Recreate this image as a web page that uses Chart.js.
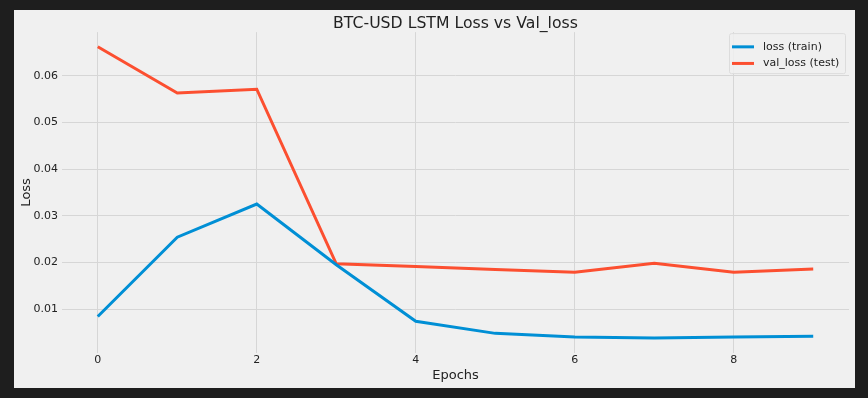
<!DOCTYPE html>
<html>
<head>
<meta charset="utf-8">
<script src="https://cdn.jsdelivr.net/npm/chart.js@4"></script>
<style>
  html, body { margin: 0; padding: 0; background: #1e1e1e; }
  #wrap { position: absolute; left: 14px; top: 10px; width: 841px; height: 378px; background: #f0f0f0; }
</style>
</head>
<body>
<div id="wrap"><canvas id="lossChart"></canvas></div>
<script>
const epochs = [0, 1, 2, 3, 4, 5, 6, 7, 8, 9];
const loss = [0.0084, 0.0254, 0.0325, 0.0195, 0.0074, 0.0048, 0.0040, 0.0038, 0.0040, 0.0042];
const valLoss = [0.0662, 0.0563, 0.0571, 0.0197, 0.0191, 0.0185, 0.0179, 0.0198, 0.0179, 0.0186];
const xTicks = [0, 2, 4, 6, 8];
const yTicks = [0.01, 0.02, 0.03, 0.04, 0.05, 0.06];
const seriesNames = ["loss (train)", "val_loss (test)"];

const FONT = "'DejaVu Sans', sans-serif";
const TEXT = "#222222";
const GRID = "#d6d6d6";

// matplotlib-style legend box in the upper right corner of the plot
const legendBox = {
  id: "legendBox",
  afterDatasetsDraw(chart) {
    const ctx = chart.ctx;
    const area = chart.chartArea;
    const w = 116, h = 40;
    const x = area.right - 4 - w, y = area.top + 1;
    ctx.save();
    ctx.beginPath();
    ctx.roundRect(x + 0.5, y + 0.5, w, h, 2);
    ctx.fillStyle = "rgba(240,240,240,0.85)";
    ctx.fill();
    ctx.strokeStyle = "#dcdcdc";
    ctx.lineWidth = 1;
    ctx.stroke();
    chart.data.datasets.forEach((ds, i) => {
      const cy = y + 13.7 + i * 16.6;
      ctx.beginPath();
      ctx.moveTo(x + 3, cy);
      ctx.lineTo(x + 25, cy);
      ctx.strokeStyle = ds.borderColor;
      ctx.lineWidth = 3;
      ctx.stroke();
      ctx.fillStyle = TEXT;
      ctx.font = "11px " + FONT;
      ctx.textBaseline = "middle";
      ctx.fillText(ds.label, x + 34, cy);
    });
    ctx.restore();
  }
};

const ctx = document.getElementById("lossChart").getContext("2d");
new Chart(ctx, {
  type: "line",
  data: {
    datasets: [
      {
        label: seriesNames[0],
        data: epochs.map((e, i) => ({ x: e, y: loss[i] })),
        borderColor: "#008fd5",
        borderWidth: 3,
        pointRadius: 0,
        tension: 0,
        fill: false
      },
      {
        label: seriesNames[1],
        data: epochs.map((e, i) => ({ x: e, y: valLoss[i] })),
        borderColor: "#fc4f30",
        borderWidth: 3,
        pointRadius: 0,
        tension: 0,
        fill: false
      }
    ]
  },
  options: {
    responsive: true,
    maintainAspectRatio: false,
    animation: false,
    layout: { padding: { left: 0, right: 6, top: 0, bottom: 0 } },
    plugins: {
      legend: { display: false },
      tooltip: { enabled: false },
      title: {
        display: true,
        text: "BTC-USD LSTM Loss vs Val_loss",
        fullSize: false,
        color: TEXT,
        font: { family: FONT, size: 15.7, weight: "normal" },
        padding: { top: 4.6, bottom: -1.3 }
      }
    },
    scales: {
      x: {
        type: "linear",
        min: -0.45,
        max: 9.45,
        afterBuildTicks: scale => { scale.ticks = xTicks.map(v => ({ value: v })); },
        afterFit: scale => { scale.height = 35.4; },
        grid: { color: GRID, lineWidth: 1, drawTicks: false },
        border: { display: false },
        ticks: { color: TEXT, font: { family: FONT, size: 11 }, padding: 1, maxRotation: 0 },
        title: {
          display: true,
          text: "Epochs",
          color: TEXT,
          font: { family: FONT, size: 13 },
          padding: { top: 0, bottom: 4.5 }
        }
      },
      y: {
        type: "linear",
        min: 0.00068,
        max: 0.06932,
        afterBuildTicks: scale => { scale.ticks = yTicks.map(v => ({ value: v })); },
        afterFit: scale => { scale.width = 48; },
        grid: { color: GRID, lineWidth: 1, drawTicks: false },
        border: { display: false },
        ticks: {
          color: TEXT,
          font: { family: FONT, size: 11 },
          padding: 4,
          callback: v => v.toFixed(2)
        },
        title: {
          display: true,
          text: "Loss",
          color: TEXT,
          font: { family: FONT, size: 13 },
          padding: { top: 4.5, bottom: 0 }
        }
      }
    }
  },
  plugins: [legendBox]
});
</script>
</body>
</html>
